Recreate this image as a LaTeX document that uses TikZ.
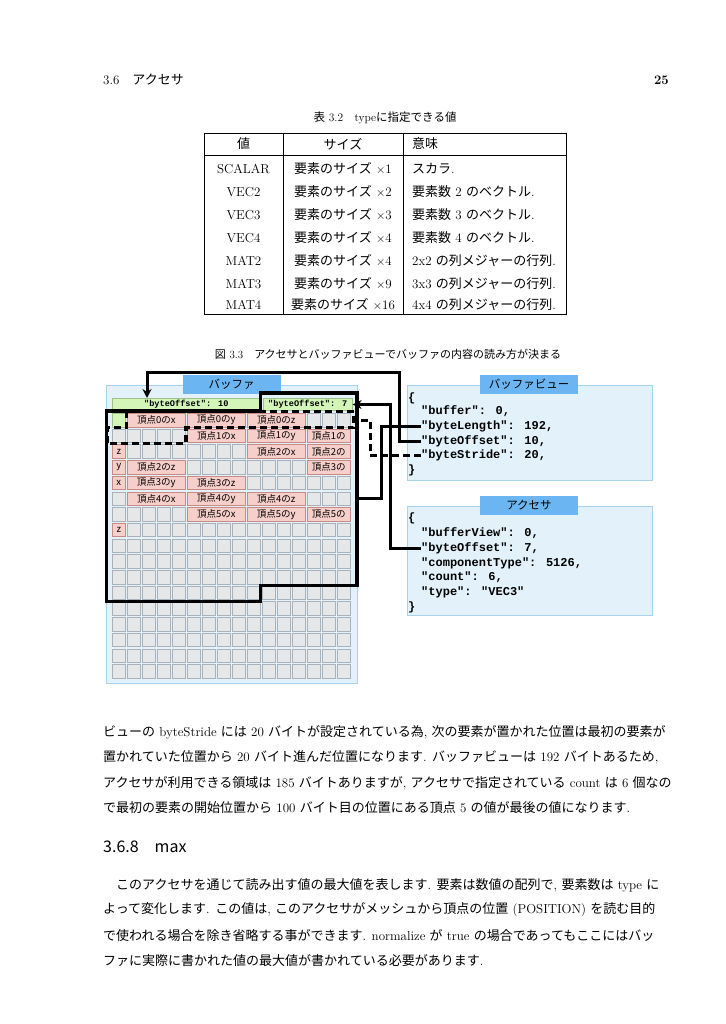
\documentclass[tikz,border=0pt]{standalone}
\usepackage{fontspec}
\newfontfamily\cjk{Noto Sans CJK JP}
\newfontfamily\codef{Liberation Mono}
\usetikzlibrary{arrows.meta}
\newcommand{\J}[1]{{\cjk #1}}
\definecolor{bufbg}{HTML}{E2F1FA}
\definecolor{bufbd}{HTML}{A9D3EC}
\definecolor{ttl}{HTML}{6BB6F2}
\definecolor{pinkf}{HTML}{F6CFCA}
\definecolor{pinkd}{HTML}{C98A86}
\definecolor{greyf}{HTML}{E6E7E9}
\definecolor{greyd}{HTML}{A9B2BA}
\definecolor{grnf}{HTML}{D3F5B8}
\definecolor{grnd}{HTML}{9FC08A}
\begin{document}
\begin{tikzpicture}[x=1pt,y=-1pt,
  body/.style={anchor=west,inner sep=0pt,font=\fontsize{13}{15}\selectfont},
  cell/.style={draw=greyd,fill=greyf,line width=0.6pt,minimum width=13pt,minimum height=13.5pt,inner sep=0pt,anchor=north west},
  lab/.style={draw=pinkd,fill=pinkf,line width=0.6pt,minimum height=13.5pt,inner sep=0pt,anchor=north west,font=\cjk\fontsize{9.5}{10}\selectfont},
  grn/.style={draw=grnd,fill=grnf,line width=0.6pt,minimum height=12pt,inner sep=0pt,anchor=north west,font=\codef\bfseries\fontsize{8.6}{9}\selectfont},
  ttlbox/.style={fill=ttl,minimum width=98pt,minimum height=19pt,inner sep=0pt,font=\cjk\fontsize{11.5}{12}\selectfont},
  panel/.style={draw=bufbd,fill=bufbg,line width=0.8pt},
  code/.style={anchor=west,inner sep=0pt,font=\codef\bfseries\fontsize{12}{13}\selectfont},
  thick/.style={line width=3.2pt},
  conn/.style={line width=3pt},
  tip/.style={-{Stealth[length=9pt,width=9pt]}}]
\useasboundingbox (0,0) rectangle (725,1024);
\fill[white] (0,0) rectangle (725,1024);
% header
\node[body] (hdr) at (103,80) {3.6\quad\J{アクセサ}};
\node[anchor=east,inner sep=0pt,font=\fontsize{13}{15}\selectfont\bfseries] (pg) at (669,80) {25};
% table
\node[inner sep=0pt,font=\fontsize{11.5}{13}\selectfont] (tcap) at (385,118) {\J{表} 3.2\quad type\J{に指定できる値}};
\draw[line width=0.6pt] (204,133) rectangle (566,314);
\draw[line width=0.6pt] (204,155) -- (566,155) (283,133) -- (283,314) (403,133) -- (403,314);
\begin{scope}[every node/.style={inner sep=0pt,font=\fontsize{13}{15}\selectfont}]
\node (h1) at (243.5,144) {\J{値}};
\node (h2) at (343,144) {\J{サイズ}};
\node[anchor=west] (h3) at (412,144) {\J{意味}};
\foreach \y/\a/\b/\c [count=\i] in {169/SCALAR/1/{\J{スカラ}.},192/VEC2/2/{\J{要素数} 2 \J{のベクトル}.},215/VEC3/3/{\J{要素数} 3 \J{のベクトル}.},238/VEC4/4/{\J{要素数} 4 \J{のベクトル}.},261/MAT2/4/{2x2 \J{の列メジャーの行列}.},284/MAT3/9/{3x3 \J{の列メジャーの行列}.},305/MAT4/16/{4x4 \J{の列メジャーの行列}.}}{
  \node (ta\i) at (243.5,\y) {\a};
  \node (tb\i) at (343,\y) {\J{要素のサイズ} $\times$\b};
  \node[anchor=west] (tc\i) at (412,\y) {\c};
}
\end{scope}
% figure caption
\node[inner sep=0pt,font=\fontsize{11}{13}\selectfont] (fcap) at (388,354) {\J{図} 3.3\quad\J{アクセサとバッファビューでバッファの内容の読み方が決まる}};
% buffer panel
\draw[panel] (106,385) rectangle (357,683);
\node[ttlbox] (bt) at (231.5,384.5) {バッファ};
\foreach \r in {0,...,16}{\foreach \c in {0,...,15}{
  \node[cell] (c\c-\r) at ({112+15*\c},{413+15.7*\r}) {};}}
% green
\node[grn,minimum width=148pt] (bar10) at (112,398) {"byteOffset": 10};
\node[grn,minimum width=89pt] (bar7) at (263,398) {"byteOffset": 7};
\node[grn,minimum width=13pt,minimum height=13.5pt] (g0) at (112,413) {};
% pink
\foreach \r/\c/\n/\t [count=\k] in {0/1/4/頂点0のx,0/5/4/頂点0のy,0/9/4/頂点0のz,1/5/4/頂点1のx,1/9/4/頂点1のy,1/13/3/頂点1の,2/0/1/z,2/9/4/頂点2のx,2/13/3/頂点2の,3/0/1/y,3/1/4/頂点2のz,3/13/3/頂点3の,4/0/1/x,4/1/4/頂点3のy,4/5/4/頂点3のz,5/1/4/頂点4のx,5/5/4/頂点4のy,5/9/4/頂点4のz,6/5/4/頂点5のx,6/9/4/頂点5のy,6/13/3/頂点5の,7/0/1/z}{
  \node[lab,minimum width={15*\n-2}] (p\k) at ({112+15*\c},{413+15.7*\r}) {\t};}
% outlines
\draw[thick,line join=miter] (260.5,411) -- (260.5,393) -- (357,393) -- (357,585.7) -- (260.5,585.7) -- (260.5,601.4) -- (106.5,601.4) -- (106.5,411) -- cycle;
\draw[thick,dash pattern=on 7pt off 4pt] (126.5,411.5) -- (353.5,411.5) -- (353.5,427.7) -- (186,427.7) -- (186,443.4) -- (107,443.4) -- (107,427.7) -- (126.5,427.7) -- cycle;
% buffer view panel
\draw[panel] (407,385) rectangle (652,480);
\node[ttlbox] (bvt) at (529,384.5) {バッファビュー};
\node[code] (bv0) at (408,398) {\{};
\node[code] (bv1) at (421,411) {"buffer": 0,};
\node[code] (bv2) at (421,426) {"byteLength": 192,};
\node[code] (bv3) at (421,441) {"byteOffset": 10,};
\node[code] (bv4) at (421,455) {"byteStride": 20,};
\node[code] (bv5) at (408,470) {\}};
% accessor panel
\draw[panel] (407,506) rectangle (652,615);
\node[ttlbox] (act) at (529,505) {アクセサ};
\node[code] (ac0) at (408,518) {\{};
\node[code] (ac1) at (421,533) {"bufferView": 0,};
\node[code] (ac2) at (421,548) {"byteOffset": 7,};
\node[code] (ac3) at (421,563) {"componentType": 5126,};
\node[code] (ac4) at (421,577) {"count": 6,};
\node[code] (ac5) at (421,592) {"type": "VEC3"};
\node[code] (ac6) at (408,607) {\}};
% connectors
\coordinate (k1) at (399,372.5); \coordinate (k2) at (147,372.5);
\draw[conn,tip] (bv3.west) -| (k1) -- (k2) -- (bar10.north -| k2);
\coordinate (k3) at (381,426); \coordinate (k4) at (381,498); \coordinate (k5) at (357,498);
\draw[conn] (bv2.west) -- (k3) -- (k4) -- (k5);
\coordinate (k6) at (390,548); \coordinate (k7) at (390,404.5);
\draw[conn,tip] (ac2.west) -- (k6) -- (k7) -- (bar7.east |- k7);
\coordinate (k8) at (370,455); \coordinate (k9) at (370,420); \coordinate (k10) at (355,420);
\draw[conn,dash pattern=on 7pt off 4pt] (bv4.west) -- (k8) -- (k9) -- (k10);
% text
\node[body] (l1) at (103,732) {\J{ビューの} byteStride \J{には} 20 \J{バイトが設定されている為}, \J{次の要素が置かれた位置は最初の要素が}};
\node[body] (l2) at (103,757) {\J{置かれていた位置から} 20 \J{バイト進んだ位置になります}. \J{バッファビューは} 192 \J{バイトあるため},};
\node[body] (l3) at (103,783) {\J{アクセサが利用できる領域は} 185 \J{バイトありますが}, \J{アクセサで指定されている} count \J{は} 6 \J{個なの}};
\node[body] (l4) at (103,808) {\J{で最初の要素の開始位置から} 100 \J{バイト目の位置にある頂点} 5 \J{の値が最後の値になります}.};
\node[anchor=west,inner sep=0pt,font=\cjk\fontsize{16}{18}\selectfont] (sec) at (103,847) {3.6.8\quad max};
\node[body] (m1) at (116,885) {\J{このアクセサを通じて読み出す値の最大値を表します}. \J{要素は数値の配列で}, \J{要素数は} type \J{に}};
\node[body] (m2) at (103,910) {\J{よって変化します}. \J{この値は}, \J{このアクセサがメッシュから頂点の位置} (POSITION) \J{を読む目的}};
\node[body] (m3) at (103,936) {\J{で使われる場合を除き省略する事ができます}. normalize \J{が} true \J{の場合であってもここにはバッ}};
\node[body] (m4) at (103,961) {\J{ファに実際に書かれた値の最大値が書かれている必要があります}.};
\end{tikzpicture}
\end{document}
